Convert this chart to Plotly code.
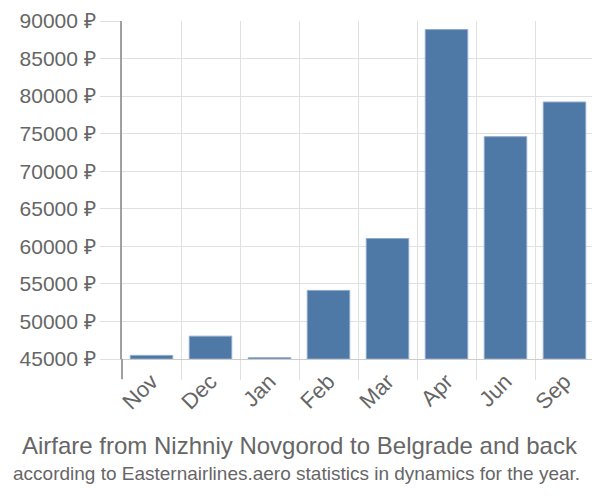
import plotly.graph_objects as go

months = ["Nov", "Dec", "Jan", "Feb", "Mar", "Apr", "Jun", "Sep"]
prices = [45480, 48040, 45170, 54130, 61040, 88860, 74600, 79210]
base_price = 45000
tick_vals = [45000, 50000, 55000, 60000, 65000, 70000, 75000, 80000, 85000, 90000]
tick_text = [f"{v} ₽" for v in tick_vals]

# page body has an 8px margin, so figure coordinates = screen coordinates - 8
OFF = 8
FW, FH = 600 - OFF, 500 - OFF
PLOT_L, PLOT_R, PLOT_T, PLOT_B = 122 - OFF, 594 - OFF, 21 - OFF, 359 - OFF
PW, PH = PLOT_R - PLOT_L, PLOT_B - PLOT_T

fig = go.Figure()
fig.add_trace(go.Bar(
    x=months,
    y=[p - base_price for p in prices],
    base=base_price,
    width=0.72,
    marker=dict(color="#4e79a7", line=dict(color="#8fa9c9", width=1)),
))

fig.update_layout(
    width=FW, height=FH,
    margin=dict(l=PLOT_L, r=FW - PLOT_R, t=PLOT_T, b=FH - PLOT_B),
    paper_bgcolor="white", plot_bgcolor="white",
    showlegend=False,
    font=dict(family="Liberation Sans, Arial, sans-serif", color="#666666"),
)
fig.update_xaxes(
    type="category",
    automargin=False,
    tickson="boundaries",
    ticks="outside", ticklen=20, tickcolor="#e0e0e0", tickwidth=1,
    showgrid=True, gridcolor="#e0e0e0", gridwidth=1,
    showline=True, linecolor="#cccccc", linewidth=1,
    tickangle=-45,
    tickfont=dict(size=22, color="#666666"),
    range=[-0.5, 7.5],
)
fig.update_yaxes(
    automargin=False,
    range=[45000, 90000],
    tickvals=tick_vals, ticktext=tick_text,
    ticks="outside", ticklen=20, tickcolor="#e0e0e0", tickwidth=1,
    showgrid=True, gridcolor="#e0e0e0", gridwidth=1,
    showline=True, linecolor="#a0a0a0", linewidth=2,
    tickfont=dict(size=21, color="#666666"),
    ticklabeloverflow="allow",
    zeroline=False,
)

fig.add_shape(
    type="line", xref="paper", yref="paper",
    x0=0, x1=0, y0=0, y1=-20 / PH,
    line=dict(color="#a0a0a0", width=2),
)

cx = (300 - OFF - PLOT_L) / PW
fig.add_annotation(
    text="Airfare from Nizhniy Novgorod to Belgrade and back",
    xref="paper", yref="paper", x=cx, y=-(445 - OFF - PLOT_B) / PH,
    xanchor="center", yanchor="middle", showarrow=False,
    font=dict(size=24, color="#666666"),
)
fig.add_annotation(
    text="according to Easternairlines.aero statistics in dynamics for the year.",
    xref="paper", yref="paper", x=(296 - OFF - PLOT_L) / PW, y=-(473 - OFF - PLOT_B) / PH,
    xanchor="center", yanchor="middle", showarrow=False,
    font=dict(size=19, color="#666666"),
)

fig.write_html("out.html")
